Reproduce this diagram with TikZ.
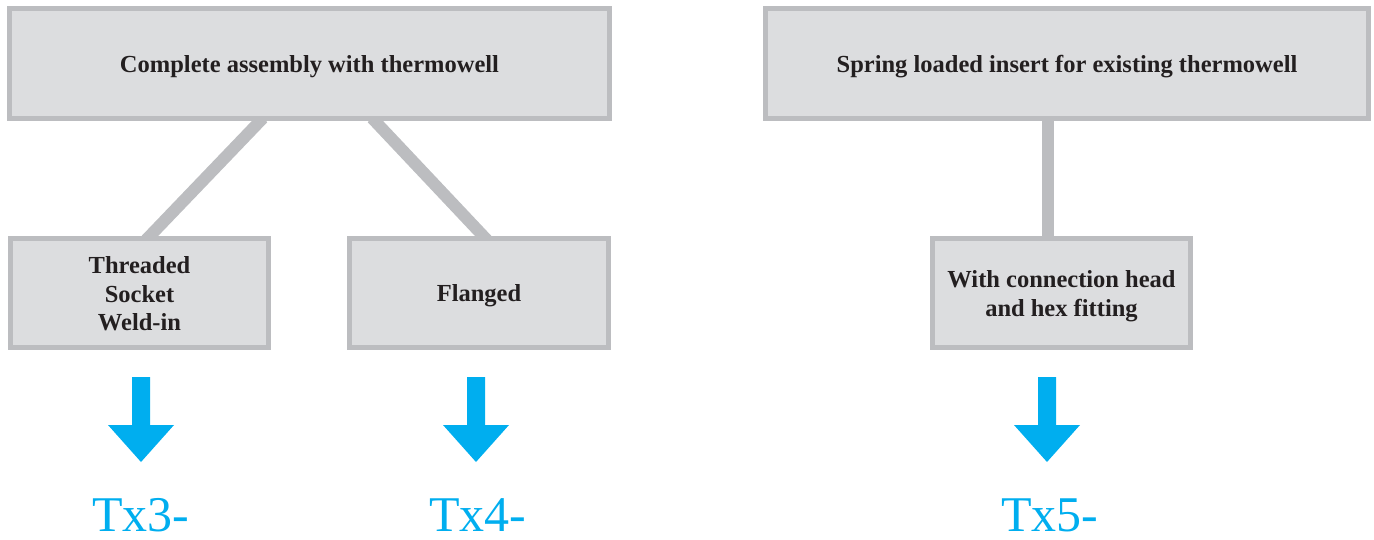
\documentclass[tikz,border=0pt]{standalone}
\usepackage{fontspec}
\setmainfont{Liberation Serif}
\definecolor{boxfill}{HTML}{DCDDDF}
\definecolor{boxline}{HTML}{BCBDC0}
\definecolor{txt}{HTML}{231F20}
\definecolor{cyanar}{HTML}{00AEEF}
\begin{document}
\begin{tikzpicture}[x=1pt,y=-1pt,
  box/.style={draw=boxline, fill=boxfill, line width=5pt, inner sep=0pt},
  lbl/.style={inner sep=0pt, align=center, text=txt,
    font=\fontsize{24.5}{28.5}\selectfont\bfseries},
  link/.style={draw=boxline, line width=12pt},
  code/.style={text=cyanar, font=\fontsize{50}{50}\selectfont, inner sep=0pt, anchor=base, text depth=0pt}
]
\useasboundingbox (0,0) rectangle (1374,540);
% connector anchor points
\coordinate (a1) at (263,118);
\coordinate (a2) at (146,240);
\coordinate (b1) at (372,118);
\coordinate (b2) at (487,240);
\coordinate (c1) at (1048,118);
\coordinate (c2) at (1048,240);
\draw[link] (a1) -- (a2);
\draw[link] (b1) -- (b2);
\draw[link] (c1) -- (c2);
% boxes
\node[box, minimum width=600pt, minimum height=110pt] (top1) at (309.5,63.5) {};
\node[box, minimum width=603pt, minimum height=110pt] (top2) at (1067,63.5) {};
\node[box, minimum width=258pt, minimum height=109pt] (thr) at (139.5,293) {};
\node[box, minimum width=259pt, minimum height=109pt] (fla) at (479,293) {};
\node[box, minimum width=258pt, minimum height=109pt] (hex) at (1061.5,293) {};
% labels
\node[lbl] (l1) at ([yshift=-3pt]top1.center) {Complete assembly with thermowell};
\node[lbl] (l2) at ([yshift=-3pt]top2.center) {Spring loaded insert for existing thermowell};
\node[lbl] (l3) at ([yshift=-1pt]thr.center) {Threaded\\Socket\\Weld-in};
\node[lbl] (l4) at ([yshift=-3pt]fla.center) {Flanged};
\node[lbl] (l5) at ([yshift=-3pt]hex.center) {With connection head\\and hex fitting};
% arrows
\foreach \n/\x in {ar1/141, ar2/476, ar3/1047}{
  \coordinate (\n) at (\x,377);
  \fill[cyanar] (\n) ++(-9,0) -- ++(0,48) -- ++(-24,0) -- ++(33,37) -- ++(33,-37) -- ++(-24,0) -- ++(0,-48) -- cycle;
}
% codes
\node[code] (t3) at (141,531) {Tx3-};
\node[code] (t4) at (478,531) {Tx4-};
\node[code] (t5) at (1050,531) {Tx5-};
\end{tikzpicture}
\end{document}
